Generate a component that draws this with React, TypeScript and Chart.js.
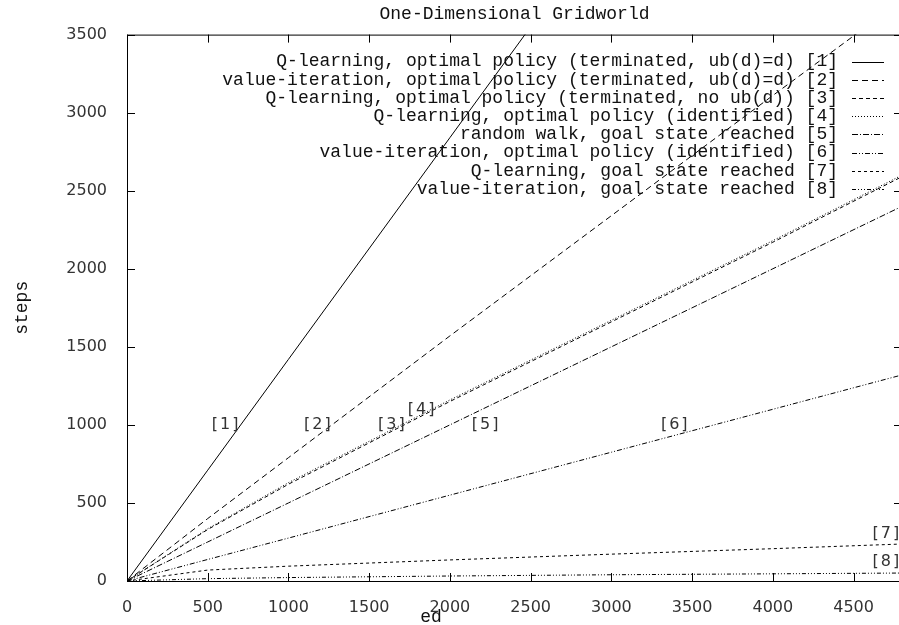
import { useEffect, useRef } from "react";
import { Chart, registerables } from "chart.js";

Chart.register(...registerables);

// ---- data ----
const edValues = [0, 500, 1000, 2000, 3000, 4000, 4800];

const seriesLabels = [
  "Q-learning, optimal policy (terminated, ub(d)=d) [1]",
  "value-iteration, optimal policy (terminated, ub(d)=d) [2]",
  "Q-learning, optimal policy (terminated, no ub(d)) [3]",
  "Q-learning, optimal policy (identified) [4]",
  "random walk, goal state reached [5]",
  "value-iteration, optimal policy (identified) [6]",
  "Q-learning, goal state reached [7]",
  "value-iteration, goal state reached [8]",
];

const steps1 = [0, 710, 1420, 2840, 4260, 5680, 6816];
const steps2 = [0, 400, 790, 1570, 2340, 3110, 3720];
const steps3 = [0, 330, 620, 1150, 1660, 2170, 2590];
const steps4 = [0, 335, 630, 1160, 1670, 2180, 2600];
const steps5 = [0, 250, 500, 1000, 1500, 2000, 2400];
const steps6 = [0, 138, 275, 550, 825, 1100, 1320];
const steps7 = [0, 70, 95, 135, 172, 207, 237];
const steps8 = [0, 15, 22, 32, 40, 46, 51];

const xTickValues = [0, 500, 1000, 1500, 2000, 2500, 3000, 3500, 4000, 4500];
const yTickValues = [0, 500, 1000, 1500, 2000, 2500, 3000, 3500];

const markerTexts = ["[1]", "[2]", "[3]", "[4]", "[5]", "[6]", "[7]", "[8]"];
const markerEd = [525, 1096, 1555, 1739, 2135, 3307, 4618, 4618];
const markerSteps = [1000, 1000, 1000, 1096, 1000, 1000, 301, 122];

const allSteps = [steps1, steps2, steps3, steps4, steps5, steps6, steps7, steps8];
const dashes: number[][] = [
  [],
  [6, 4],
  [4, 3],
  [1, 2],
  [6, 2, 1, 2],
  [5, 2, 1, 2, 1, 2],
  [3, 3],
  [4, 2, 1, 2, 1, 2, 1, 2],
];

const MONO = "'Liberation Mono', 'Courier New', monospace";
const SANS = "'DejaVu Sans', sans-serif";

const gnuplotPlugin = {
  id: "gnuplotDecor",
  afterDatasetsDraw(chart: any) {
    const { ctx, chartArea: a, scales } = chart;
    const x = scales.x;
    const y = scales.y;
    ctx.save();
    ctx.strokeStyle = "#000";
    ctx.lineWidth = 1;
    ctx.setLineDash([]);
    // frame
    ctx.strokeRect(a.left + 0.5, a.top + 0.5, a.right - a.left, a.bottom - a.top);
    // inward ticks
    ctx.beginPath();
    xTickValues.forEach((v) => {
      const px = Math.round(x.getPixelForValue(v)) + 0.5;
      ctx.moveTo(px, a.bottom);
      ctx.lineTo(px, a.bottom - 8);
      ctx.moveTo(px, a.top);
      ctx.lineTo(px, a.top + 8);
    });
    yTickValues.forEach((v) => {
      const py = Math.round(y.getPixelForValue(v)) + 0.5;
      ctx.moveTo(a.left, py);
      ctx.lineTo(a.left + 8, py);
      ctx.moveTo(a.right, py);
      ctx.lineTo(a.right - 8, py);
    });
    ctx.stroke();

    // curve markers
    ctx.font = `16px ${SANS}`;
    ctx.fillStyle = "#333";
    ctx.textAlign = "left";
    ctx.textBaseline = "middle";
    try { (ctx as any).letterSpacing = "2px"; } catch (e) {}
    markerTexts.forEach((t, i) => {
      ctx.fillText(t, x.getPixelForValue(markerEd[i]), y.getPixelForValue(markerSteps[i]));
    });
    try { (ctx as any).letterSpacing = "0px"; } catch (e) {}

    // key
    ctx.font = `18px ${MONO}`;
    ctx.fillStyle = "#111";
    ctx.textAlign = "right";
    const textRight = a.right - 64;
    const sampleL = a.right - 50;
    const sampleR = a.right - 18;
    chart.data.datasets.forEach((ds: any, i: number) => {
      const ly = a.top + 27 + i * 18.2;
      ctx.fillText(ds.label, textRight, ly);
      ctx.setLineDash(ds.borderDash || []);
      ctx.beginPath();
      ctx.moveTo(sampleL, Math.round(ly) + 0.5);
      ctx.lineTo(sampleR, Math.round(ly) + 0.5);
      ctx.stroke();
    });
    ctx.setLineDash([]);

    // x label
    ctx.textAlign = "center";
    ctx.fillText("ed", 431, 617);
    ctx.restore();
  },
};

export default function App() {
  const ref = useRef<HTMLCanvasElement>(null);
  useEffect(() => {
    const canvas = ref.current;
    if (!canvas) return;
    const chart = new Chart(canvas, {
      type: "line",
      data: {
        datasets: allSteps.map((s, i) => ({
          label: seriesLabels[i],
          data: edValues.map((e, j) => ({ x: e, y: s[j] })),
          borderColor: "#000",
          borderWidth: 1,
          borderDash: dashes[i],
          pointRadius: 0,
          fill: false,
          tension: 0,
        })),
      },
      options: {
        animation: false,
        responsive: false,
        devicePixelRatio: 1,
        layout: { padding: { left: 0, right: 10, top: 0, bottom: 0 } },
        plugins: {
          legend: { display: false },
          tooltip: { enabled: false },
          title: {
            display: true,
            text: "One-Dimensional Gridworld",
            fullSize: false,
            color: "#111",
            font: { family: MONO, size: 18, weight: "normal", lineHeight: 1.2 },
            padding: { top: 3, bottom: 10 },
          },
        },
        scales: {
          x: {
            type: "linear",
            min: 0,
            max: 4800,
            grid: { display: false },
            border: { display: false },
            afterFit: (s: any) => { s.height = 44; },
            afterBuildTicks: (s: any) => { s.ticks = xTickValues.map((v) => ({ value: v })); },
            ticks: {
              color: "#333",
              font: { family: SANS, size: 16 },
              padding: 9,
              maxRotation: 0,
              callback: (v: any) => String(v),
            },
          },
          y: {
            type: "linear",
            min: 0,
            max: 3500,
            grid: { display: false },
            border: { display: false },
            afterFit: (s: any) => { s.width = 127; },
            afterBuildTicks: (s: any) => { s.ticks = yTickValues.map((v) => ({ value: v })); },
            title: {
              display: true,
              text: "steps",
              color: "#111",
              font: { family: MONO, size: 18, lineHeight: 1.2 },
              padding: { top: 11, bottom: 0 },
            },
            ticks: {
              color: "#333",
              font: { family: SANS, size: 16 },
              padding: 12,
              callback: (v: any) => String(v),
            },
          },
        },
      },
      plugins: [gnuplotPlugin],
    } as any);
    return () => chart.destroy();
  }, []);

  return (
    <div
      style={{
        position: "fixed",
        left: 0,
        top: 0,
        width: 899,
        height: 625,
        overflow: "hidden",
        background: "#fff",
      }}
    >
      <canvas ref={ref} width={912} height={625} style={{ display: "block", width: 912, height: 625 }} />
    </div>
  );
}
